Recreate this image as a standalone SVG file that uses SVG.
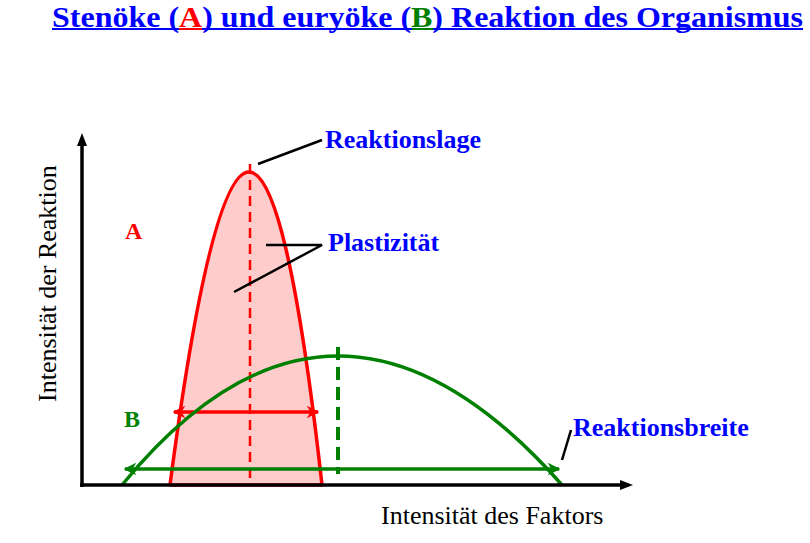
<svg xmlns="http://www.w3.org/2000/svg" width="810" height="543" viewBox="0 0 810 543">
<defs>
<style>
.lbl{font-family:"Liberation Serif","Times New Roman",serif;font-weight:bold;font-size:26px;fill:#0000ff}
.ax{font-family:"Liberation Serif","Times New Roman",serif;font-size:26px;fill:#000}
.lead{stroke:#000;stroke-width:2.5;fill:none}
</style>
<marker id="ar" viewBox="0 0 10 10" refX="9" refY="5" markerWidth="3.6" markerHeight="3.6" orient="auto-start-reverse" markerUnits="strokeWidth">
<path d="M0,0 L10,5 L0,10 L3,5 Z" fill="#ff0000"/>
</marker>
<marker id="ag" viewBox="0 0 10 10" refX="9" refY="5" markerWidth="3.6" markerHeight="3.6" orient="auto-start-reverse" markerUnits="strokeWidth">
<path d="M0,0 L10,5 L0,10 L3,5 Z" fill="#008000"/>
</marker>
</defs>
<rect width="810" height="543" fill="#fff"/>

<g id="title">
<text x="52" y="26.5" font-family="Liberation Serif, Times New Roman, serif" font-weight="bold" font-size="30" fill="#0000ff" textLength="751" lengthAdjust="spacingAndGlyphs">Stenöke (<tspan fill="#ff0000">A</tspan>) und euryöke (<tspan fill="#008000">B</tspan>) Reaktion des Organismus</text>
<rect x="52" y="28" width="751" height="2" fill="#0000ff"/>
<rect x="179" y="28" width="23" height="2" fill="#ff0000"/>
<rect x="412" y="28" width="21" height="2" fill="#008000"/>
</g>

<g id="curveA">
<path d="M170,485 Q252,-141 322,485 Z" fill="#ffcccc" stroke="#ff0000" stroke-width="3.5" stroke-linejoin="round"/>
<line x1="250" y1="164" x2="250" y2="485" stroke="#ff0000" stroke-width="2.5" stroke-dasharray="10,6"/>
<line x1="174" y1="412" x2="318" y2="412" stroke="#ff0000" stroke-width="3.5" marker-start="url(#ar)" marker-end="url(#ar)"/>
</g>

<g id="curveB">
<path d="M122,485 Q334,227 562,485" fill="none" stroke="#008000" stroke-width="3.5"/>
<line x1="338" y1="347" x2="338" y2="474" stroke="#008000" stroke-width="4" stroke-dasharray="13,7"/>
<line x1="125" y1="469" x2="559" y2="469" stroke="#008000" stroke-width="3.5" marker-start="url(#ag)" marker-end="url(#ag)"/>
</g>

<g id="axes">
<line x1="82" y1="487" x2="82" y2="143" stroke="#000" stroke-width="3.5"/>
<polygon points="82,133 77,146 87,146" fill="#000"/>
<line x1="80" y1="485" x2="622" y2="485" stroke="#000" stroke-width="3.5"/>
<polygon points="633,485 620,480 620,490" fill="#000"/>
<text class="ax" x="381" y="524">Intensität des Faktors</text>
<text class="ax" transform="translate(56,402) rotate(-90)" x="0" y="0">Intensität der Reaktion</text>
</g>

<g id="labelA"><text x="125" y="239" font-family="Liberation Serif, Times New Roman, serif" font-weight="bold" font-size="24" fill="#ff0000">A</text></g>
<g id="labelB"><text x="124" y="427" font-family="Liberation Serif, Times New Roman, serif" font-weight="bold" font-size="24" fill="#008000">B</text></g>

<g id="connectors">
<line class="lead" x1="258" y1="164" x2="322" y2="140"/>
<polyline class="lead" points="266,245 322,245 234,292"/>
<line class="lead" x1="562" y1="460" x2="571" y2="430"/>
</g>

<g id="reaktionslage"><text class="lbl" x="325" y="148">Reaktionslage</text></g>
<g id="plastizitaet"><text class="lbl" x="328" y="251">Plastizität</text></g>
<g id="reaktionsbreite"><text class="lbl" x="573" y="436">Reaktionsbreite</text></g>
</svg>
